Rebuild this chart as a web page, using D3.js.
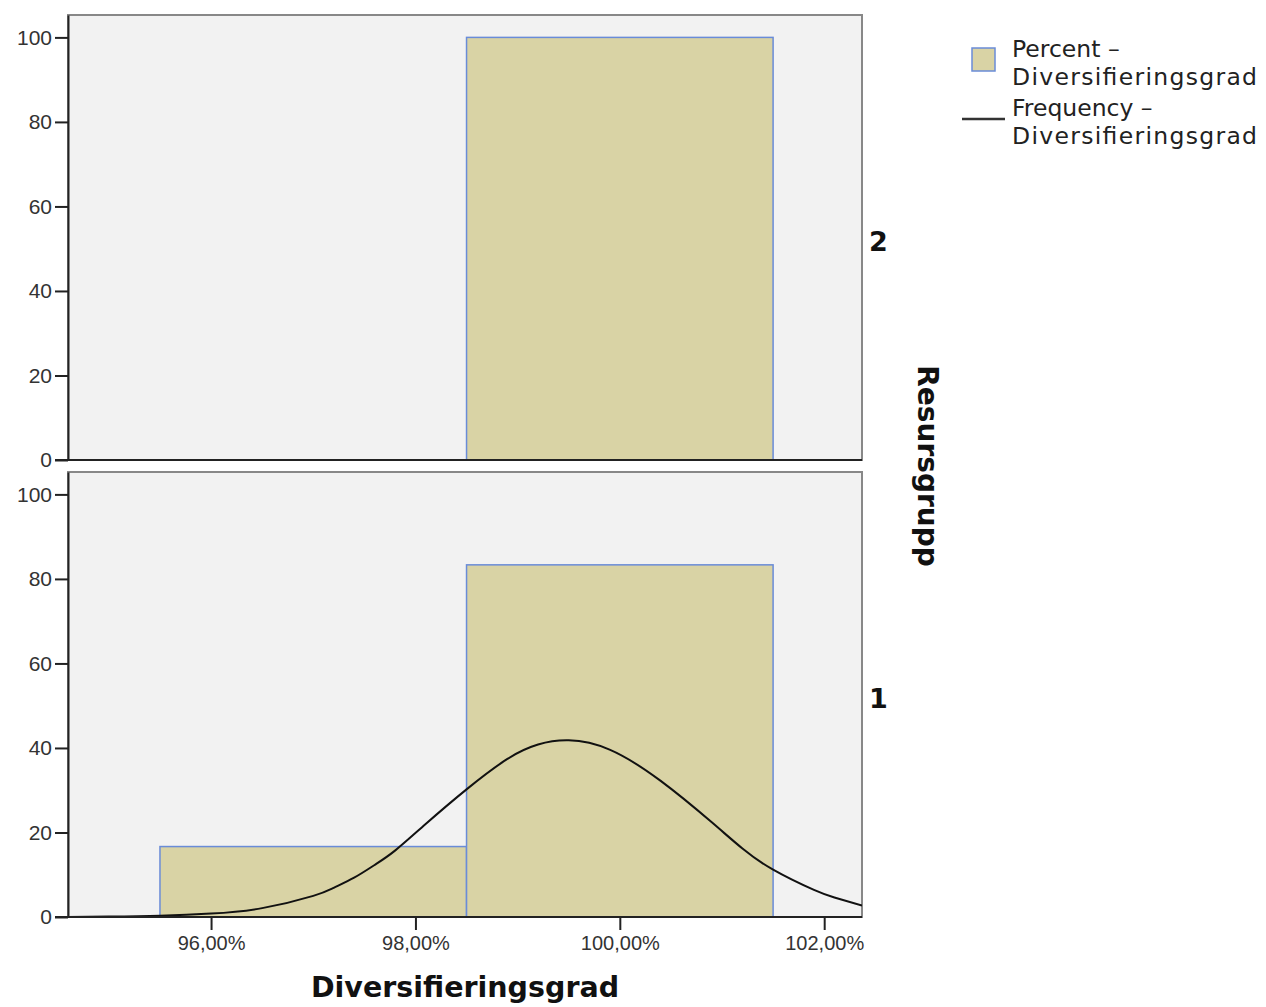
<!DOCTYPE html>
<html>
<head>
<meta charset="utf-8">
<script src="https://cdn.jsdelivr.net/npm/d3@7"></script>
<style>
  body { margin: 0; background: #fff; }
  svg { font-family: "DejaVu Sans", sans-serif; }
  .tick text { fill: #333; }
</style>
</head>
<body>
<svg id="chart" width="1266" height="1007"></svg>
<script>
// Histogram of Diversifieringsgrad split by Resursgrupp (panels 2 and 1)
const groups = ['2', '1'];
const binStart = [95.5, 98.5];
const binEnd = [98.5, 101.5];
const percentGroup2 = [0, 100];
const percentGroup1 = [16.67, 83.33];
const xTicks = [96, 98, 100, 102];
const yTicks = [0, 20, 40, 60, 80, 100];

// normal curve (group 1)
const curveX = [94.6, 95.0, 95.5, 96.0, 96.5, 97.0, 97.2, 97.4, 97.6, 97.8, 98.1, 98.5, 98.9, 99.2, 99.5, 99.9, 100.4, 100.9, 101.2, 101.5, 101.9, 102.1, 102.37];
const curveY = [0.0, 0.1, 0.3, 0.8, 2.1, 5.0, 6.9, 9.3, 12.3, 15.7, 22.0, 30.2, 37.4, 40.8, 41.8, 39.6, 32.2, 22.4, 16.2, 11.2, 6.4, 4.6, 2.7];

const legendLabels = [['Percent –', 'Diversifieringsgrad'], ['Frequency –', 'Diversifieringsgrad']];

const svg = d3.select('#chart');
const plotLeft = 68, plotRight = 862;
const panels = [{ top: 15, bottom: 460 }, { top: 472, bottom: 917 }];

const x = d3.scaleLinear().domain([94.6, 102.37]).range([plotLeft, plotRight]);

const locale = d3.formatLocale({ decimal: ',', thousands: '.', grouping: [3], currency: ['', ''] });
const fmt = locale.format('.2f');

const barFill = '#d9d3a5';
const barStroke = '#6a8cd8';

const series = [percentGroup2, percentGroup1];

panels.forEach((p, i) => {
  const y = d3.scaleLinear().domain([0, 105.3]).range([p.bottom, p.top]);
  const g = svg.append('g');

  g.append('rect')
    .attr('x', plotLeft).attr('y', p.top)
    .attr('width', plotRight - plotLeft).attr('height', p.bottom - p.top)
    .attr('fill', '#f2f2f2')
    .attr('stroke', '#888').attr('stroke-width', 2);

  const bins = binStart.map((s, j) => ({ s, e: binEnd[j], v: series[i][j] })).filter(d => d.v > 0);
  g.selectAll('rect.bar').data(bins).join('rect')
    .attr('class', 'bar')
    .attr('x', d => x(d.s)).attr('y', d => y(d.v))
    .attr('width', d => x(d.e) - x(d.s)).attr('height', d => y(0) - y(d.v))
    .attr('fill', barFill)
    .attr('stroke', barStroke).attr('stroke-width', 1.5);

  if (i === 1) {
    const pts = curveX.map((cx, k) => ({ x: cx, y: curveY[k] }));
    svg.append('clipPath').attr('id', 'clip1')
      .append('rect')
      .attr('x', plotLeft).attr('y', p.top)
      .attr('width', plotRight - plotLeft).attr('height', p.bottom - p.top);
    g.append('path')
      .datum(pts)
      .attr('clip-path', 'url(#clip1)')
      .attr('fill', 'none')
      .attr('stroke', '#111')
      .attr('stroke-width', 2)
      .attr('d', d3.line().x(d => x(d.x)).y(d => y(d.y)).curve(d3.curveNatural));
  }

  // y axis
  const yAxis = g.append('g')
    .attr('transform', `translate(${plotLeft},0)`)
    .call(d3.axisLeft(y).tickValues(yTicks).tickSize(13).tickSizeOuter(0).tickPadding(3));
  yAxis.select('.domain').attr('stroke', '#222').attr('stroke-width', 2);
  yAxis.selectAll('.tick line').attr('stroke', '#222').attr('stroke-width', 2);
  yAxis.selectAll('.tick text').style('font-size', '21px');

  // bottom axis line
  g.append('line')
    .attr('x1', plotLeft - 13).attr('x2', plotRight)
    .attr('y1', p.bottom).attr('y2', p.bottom)
    .attr('stroke', '#222').attr('stroke-width', 2);

  // panel label
  g.append('text')
    .attr('x', 869).attr('y', (p.top + p.bottom) / 2 + 13)
    .style('font-size', '27px').style('font-weight', 'bold')
    .attr('fill', '#111')
    .text(groups[i]);

  if (i === 1) {
    const xAxis = g.append('g')
      .attr('transform', `translate(0,${p.bottom})`)
      .call(d3.axisBottom(x).tickValues(xTicks).tickSize(13).tickSizeOuter(0).tickPadding(6).tickFormat(d => fmt(d) + '%'));
    xAxis.select('.domain').remove();
    xAxis.selectAll('.tick line').attr('stroke', '#222').attr('stroke-width', 2);
    xAxis.selectAll('.tick text').style('font-size', '20px');
  }
});

// axis titles
svg.append('text')
  .attr('x', (plotLeft + plotRight) / 2).attr('y', 997)
  .attr('text-anchor', 'middle')
  .style('font-size', '28.5px').style('font-weight', 'bold')
  .attr('fill', '#111')
  .text('Diversifieringsgrad');

svg.append('text')
  .attr('transform', `translate(918,466) rotate(90)`)
  .attr('text-anchor', 'middle')
  .style('font-size', '28px').style('font-weight', 'bold')
  .attr('fill', '#111')
  .text('Resursgrupp');

// legend
const legend = svg.append('g');
legend.append('rect')
  .attr('x', 972).attr('y', 48).attr('width', 23).attr('height', 23)
  .attr('fill', barFill).attr('stroke', barStroke).attr('stroke-width', 1.5);
legend.append('line')
  .attr('x1', 962).attr('x2', 1005).attr('y1', 119).attr('y2', 119)
  .attr('stroke', '#333').attr('stroke-width', 2.5);

const legendBase = [57, 116];
legendLabels.forEach((lines, i) => {
  lines.forEach((t, k) => {
    legend.append('text')
      .attr('x', 1012).attr('y', legendBase[i] + k * 28)
      .style('font-size', '23.5px')
      .attr('textLength', k === 1 ? 245 : null)
      .attr('fill', '#222')
      .text(t);
  });
});
</script>
</body>
</html>
